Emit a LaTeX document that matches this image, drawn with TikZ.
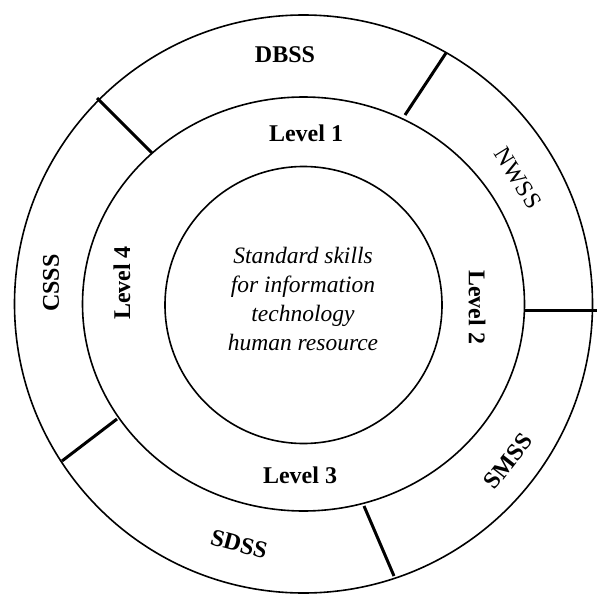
\documentclass[tikz,border=0pt]{standalone}
\usepackage{fontspec}
\setmainfont{Liberation Serif}
\begin{document}
\begin{tikzpicture}[x=1pt,y=-1pt,
  ring/.style={line width=1.6pt},
  sepline/.style={line width=3pt},
  lab/.style={font=\fontsize{24}{28}\selectfont\bfseries, inner sep=0pt},
  labr/.style={font=\fontsize{24}{28}\selectfont, inner sep=0pt},
  core/.style={font=\fontsize{23.5}{29}\selectfont\itshape, align=center, inner sep=0pt}]
\useasboundingbox (0,0) rectangle (597,594);
% rings
\draw[ring] (303.5,304) circle (289pt);
\draw[ring] (303.5,304) ellipse (221pt and 207pt);
\draw[ring] (303.5,305) circle (138.5pt);
% separator end points
\coordinate (o1) at (97,98);   \coordinate (m1) at (152,153);
\coordinate (o2) at (446,53);  \coordinate (m2) at (405,115);
\coordinate (o3) at (597,310); \coordinate (m3) at (524,310);
\coordinate (o4) at (394,576); \coordinate (m4) at (364,506);
\coordinate (o5) at (62,461);  \coordinate (m5) at (117,419);
\draw[sepline] (m1) -- (o1);
\draw[sepline] (m2) -- (o2);
\draw[sepline] (m3) -- (o3);
\draw[sepline] (m4) -- (o4);
\draw[sepline] (m5) -- (o5);
% core text
\node[core] (core) at (303,299) {Standard skills\\for information\\technology\\human resource};
% level labels
\node[lab] (l1) at (306,133) {Level 1};
\node[lab, rotate=-90] (l2) at (477,307) {Level 2};
\node[lab] (l3) at (300,475) {Level 3};
\node[lab, rotate=90] (l4) at (122,283) {Level 4};
% outer labels
\node[lab] (dbss) at (285,55) {DBSS};
\node[labr, rotate=-58] (nwss) at (518,178) {NWSS};
\node[lab, rotate=52] (smss) at (508,461) {SMSS};
\node[lab, rotate=-15] (sdss) at (239,544) {SDSS};
\node[lab, rotate=90] (csss) at (51,283) {CSSS};
\end{tikzpicture}
\end{document}
